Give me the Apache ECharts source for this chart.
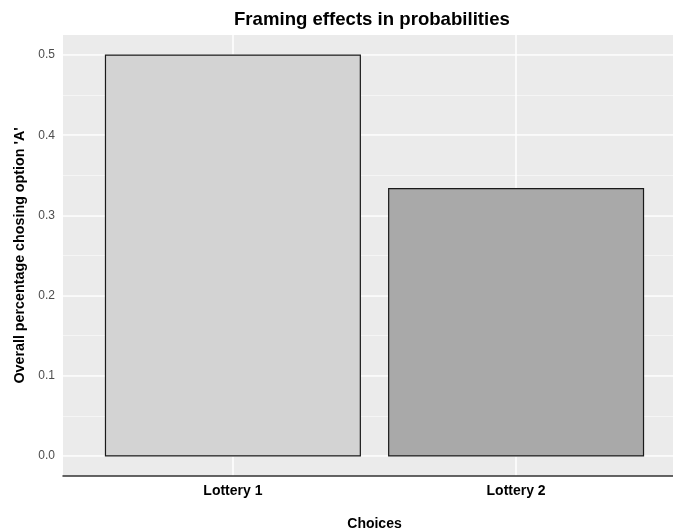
<!DOCTYPE html>
<html><head><meta charset="utf-8">
<script src="https://cdn.jsdelivr.net/npm/echarts@6/dist/echarts.min.js"></script>
<style>html,body{margin:0;padding:0;background:#fff}#c{width:673px;height:531px}</style>
</head><body><div id="c"></div>
<script>
// ---- data ----
const categories = ['Lottery 1', 'Lottery 2'];
const values = [0.5, 0.3333];
const fills = ['#D3D3D3', '#A9A9A9'];
const titleText = 'Framing effects in probabilities';
const xTitle = 'Choices';
const yTitle = "Overall percentage chosing option 'A'";

const chart = echarts.init(document.getElementById('c'), null, {renderer: 'canvas'});
const barData = categories.map((c, i) => [i + 1, values[i], i]);
const font = '"Liberation Sans", Arial, sans-serif';
const halfBar = 0.45;

const option = {
  animation: false,
  backgroundColor: '#ffffff',
  title: {
    text: titleText, left: 229, top: 5,
    textStyle: {fontFamily: font, fontSize: 18.6, fontWeight: 'bold', color: '#000'}
  },
  grid: {left: 63, width: 623, top: 35, height: 441, show: true, backgroundColor: '#EBEBEB', borderWidth: 0,
         containLabel: false, outerBoundsMode: 'none'},
  xAxis: [{
    type: 'value', min: 0.4, max: 2.6, splitNumber: 2,
    axisLine: {show: true, onZero: false, lineStyle: {color: '#333333', width: 1.5}},
    axisTick: {show: false},
    axisLabel: {
      showMinLabel: false, showMaxLabel: false, margin: 8,
      fontFamily: font, fontSize: 14, fontWeight: 'bold', color: '#000',
      formatter: v => (Math.abs(v - Math.round(v)) < 1e-6 && categories[Math.round(v) - 1]) ? categories[Math.round(v) - 1] : ''
    },
    splitLine: {show: true, showMinLine: false, showMaxLine: false, lineStyle: {color: '#ffffff', width: 1.5}},
    name: xTitle, nameLocation: 'middle', nameGap: 41,
    nameTextStyle: {fontFamily: font, fontSize: 14, fontWeight: 'bold', color: '#000'}
  }],
  yAxis: [{
    type: 'value', min: -0.025, max: 0.525, splitNumber: 5,
    axisLine: {show: false}, axisTick: {show: false},
    axisLabel: {
      showMinLabel: false, showMaxLabel: false, margin: 8,
      fontFamily: font, fontSize: 12, color: '#4D4D4D',
      formatter: v => v.toFixed(1)
    },
    splitLine: {show: true, showMinLine: false, showMaxLine: false, lineStyle: {color: '#ffffff', width: 1.5}},
    name: yTitle, nameLocation: 'middle', nameGap: 34,
    nameTextStyle: {fontFamily: font, fontSize: 14.3, fontWeight: 'bold', color: '#000'}
  }, {
    type: 'value', min: -0.025, max: 0.525, splitNumber: 11, position: 'left',
    axisLine: {show: false}, axisTick: {show: false}, axisLabel: {show: false},
    splitLine: {show: true, showMinLine: false, showMaxLine: false, lineStyle: {color: '#F7F7F7', width: 0.8}}
  }],
  series: [{
    type: 'custom', xAxisIndex: 0, yAxisIndex: 0, data: barData,
    encode: {x: 0, y: 1},
    renderItem: (params, api) => {
      const x = api.value(0), y = api.value(1), idx = api.value(2);
      const p0 = api.coord([x - halfBar, y]);
      const p1 = api.coord([x + halfBar, 0]);
      return {
        type: 'rect',
        shape: {x: p0[0], y: p0[1], width: p1[0] - p0[0], height: p1[1] - p0[1]},
        style: {fill: fills[idx], stroke: '#1a1a1a', lineWidth: 1.2}
      };
    }
  }]
};
chart.setOption(option);
</script></body></html>
